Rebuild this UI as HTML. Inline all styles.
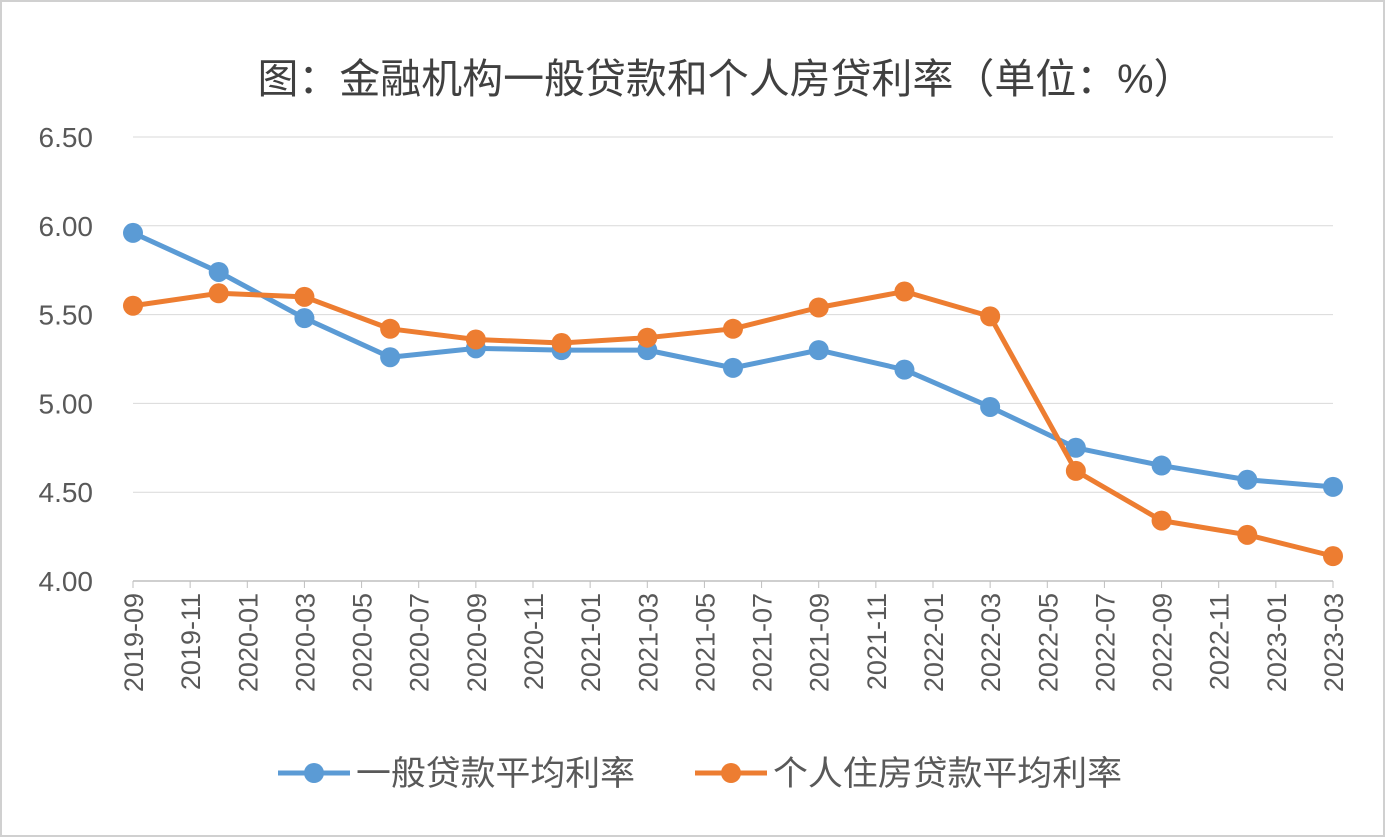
<!DOCTYPE html>
<html><head><meta charset="utf-8">
<style>
html,body{margin:0;padding:0;background:#fff;}
svg{display:block;font-family:"Liberation Sans","Noto Sans CJK SC",sans-serif;}
</style></head>
<body>
<svg id="chart" width="1386" height="838" viewBox="0 0 1386 838">
<rect x="1" y="1" width="1383" height="835" fill="#fff" stroke="#d0d0d0" stroke-width="2"/>
<text x="726" y="93" text-anchor="middle" font-size="41" fill="#404040" textLength="937" lengthAdjust="spacingAndGlyphs">图：金融机构一般贷款和个人房贷利率（单位：%）</text>
<g id="grid"></g>
<g id="yticks"></g>
<g id="xticks"></g>
<g id="series"></g>
<g>
<line x1="278" y1="773" x2="350" y2="773" stroke="#5b9bd5" stroke-width="5"/>
<circle cx="314" cy="773" r="10" fill="#5b9bd5"/>
<text x="356" y="785" font-size="34" fill="#595959" textLength="279" lengthAdjust="spacingAndGlyphs">一般贷款平均利率</text>
<line x1="695" y1="773" x2="767" y2="773" stroke="#ed7d31" stroke-width="5"/>
<circle cx="731" cy="773" r="10" fill="#ed7d31"/>
<text x="773" y="785" font-size="34" fill="#595959" textLength="349" lengthAdjust="spacingAndGlyphs">个人住房贷款平均利率</text>
</g>
</svg>
<script>
const xLabels=["2019-09","2019-11","2020-01","2020-03","2020-05","2020-07","2020-09","2020-11","2021-01","2021-03","2021-05","2021-07","2021-09","2021-11","2022-01","2022-03","2022-05","2022-07","2022-09","2022-11","2023-01","2023-03"];
const dataMonths=["2019-09","2019-12","2020-03","2020-06","2020-09","2020-12","2021-03","2021-06","2021-09","2021-12","2022-03","2022-06","2022-09","2022-12","2023-03"];
const generalRate=[5.96,5.74,5.48,5.26,5.31,5.30,5.30,5.20,5.30,5.19,4.98,4.75,4.65,4.57,4.53];
const mortgageRate=[5.55,5.62,5.60,5.42,5.36,5.34,5.37,5.42,5.54,5.63,5.49,4.62,4.34,4.26,4.14];
const yTicks=[4.00,4.50,5.00,5.50,6.00,6.50];

const NS="http://www.w3.org/2000/svg";
const X0=133,X1=1333,Y0=581,Y1=137,YMIN=4.0,YMAX=6.5;
function monthIndex(s){const [y,m]=s.split("-").map(Number);return (y-2019)*12+(m-9);}
const totalM=monthIndex("2023-03");
function xs(s){return X0+(X1-X0)*monthIndex(s)/totalM;}
function ys(v){return Y0-(Y0-Y1)*(v-YMIN)/(YMAX-YMIN);}
function mk(tag,attrs,parent){const e=document.createElementNS(NS,tag);for(const k in attrs)e.setAttribute(k,attrs[k]);parent.appendChild(e);return e;}

const grid=document.getElementById("grid"),yt=document.getElementById("yticks"),xt=document.getElementById("xticks"),ser=document.getElementById("series");
yTicks.forEach(v=>{
  const y=ys(v);
  const l=mk("line",{x1:X0,x2:X1,y1:y,y2:y,stroke:v===YMIN?"#bfbfbf":"#d9d9d9","stroke-width":v===YMIN?1.5:1},grid);
  
  
  const t=mk("text",{x:93,y:y+10,"text-anchor":"end","font-size":28,fill:"#595959"},yt);
  t.textContent=v.toFixed(2);
  
  
});
xLabels.forEach(s=>{
  const x=xs(s);
  const tk=mk("line",{x1:x,x2:x,y1:Y0,y2:Y0+7,stroke:"#bfbfbf","stroke-width":1},xt);
  
  
  const t=mk("text",{x:0,y:0,"text-anchor":"end","font-size":27,fill:"#595959",transform:`translate(${x+10},${Y0+12}) rotate(-90)`},xt);
  t.textContent=s;
  
  
});
function drawSeries(vals,color,name){
  const pts=vals.map((v,i)=>xs(dataMonths[i])+","+ys(v)).join(" ");
  const pl=mk("polyline",{points:pts,fill:"none",stroke:color,"stroke-width":5,"stroke-linejoin":"round"},ser);
  
  
  vals.forEach((v,i)=>{
    const c=mk("circle",{cx:xs(dataMonths[i]),cy:ys(v),r:10,fill:color},ser);
    
    
  });
}
drawSeries(generalRate,"#5b9bd5","general-loan-rate");
drawSeries(mortgageRate,"#ed7d31","mortgage-rate");
</script>
</body></html>
